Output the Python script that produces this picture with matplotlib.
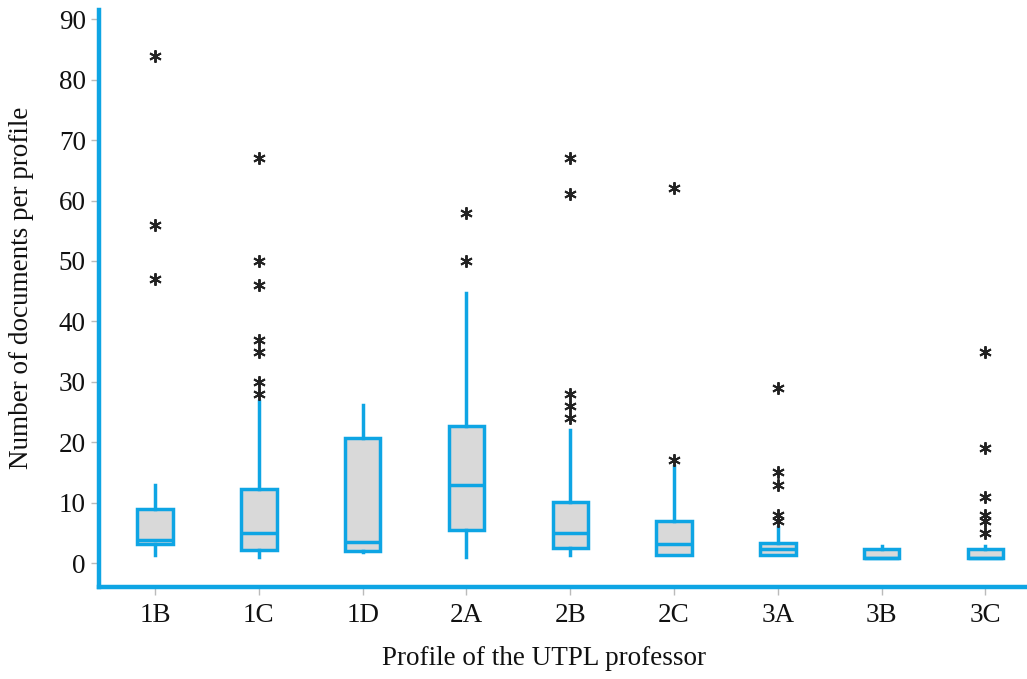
import matplotlib
matplotlib.use("Agg")
import matplotlib.pyplot as plt

# Box statistics
profiles = ["1B", "1C", "1D", "2A", "2B", "2C", "3A", "3B", "3C"]
q1 = [3.1, 2.2, 2.0, 5.5, 2.5, 1.3, 1.3, 0.9, 0.9]
medians = [3.9, 5.0, 3.5, 13.0, 4.9, 3.2, 2.4, 0.9, 0.9]
q3 = [8.9, 12.3, 20.7, 22.7, 10.1, 6.9, 3.3, 2.3, 2.3]
whisker_low = [1.3, 1.0, 1.8, 1.0, 1.3, 1.3, 1.3, 0.9, 0.9]
whisker_high = [12.9, 26.8, 26.1, 44.7, 22.0, 16.1, 5.9, 2.9, 2.9]
outliers = [
    [84, 56, 47],
    [67, 50, 46, 37, 35, 30, 28],
    [],
    [58, 50],
    [67, 61, 28, 26, 24],
    [62, 17],
    [29, 15, 13, 8, 7],
    [],
    [35, 19, 11, 8, 7, 5],
]

blue = "#0EA5E4"

stats = []
for i, name in enumerate(profiles):
    stats.append({
        "label": name,
        "q1": q1[i],
        "med": medians[i],
        "q3": q3[i],
        "whislo": whisker_low[i],
        "whishi": whisker_high[i],
        "fliers": outliers[i],
    })

plt.rcParams["font.family"] = ["Liberation Serif", "DejaVu Serif"]

fig = plt.figure(figsize=(10.27, 6.79), dpi=100)
ax = fig.add_axes([0.0964, 0.136, 0.9036, 0.849])

ax.bxp(
    stats,
    positions=range(len(profiles)),
    widths=0.34,
    patch_artist=True,
    showcaps=False,
    boxprops=dict(facecolor="#D9D9D9", edgecolor=blue, linewidth=2.5),
    medianprops=dict(color=blue, linewidth=2.5),
    whiskerprops=dict(color=blue, linewidth=2.5),
    flierprops=dict(marker=(6, 2, 0), markersize=9, markeredgecolor="#222222",
                    markeredgewidth=1.4, linestyle="none"),
)

ax.set_xlim(-0.54, 8.40)
ax.set_ylim(-3.9, 91.5)
ax.set_yticks(range(0, 91, 10))
ax.set_xticks(range(len(profiles)))
ax.set_xticklabels(profiles)

for side in ["top", "right"]:
    ax.spines[side].set_visible(False)
for side in ["left", "bottom"]:
    ax.spines[side].set_color(blue)
    ax.spines[side].set_linewidth(3.2)

ax.tick_params(axis="both", colors="#BBBBBB", labelcolor="#111111",
               labelsize=19.5, length=6, width=1)
ax.tick_params(axis="x", pad=6)

ax.set_xlabel("Profile of the UTPL professor", fontsize=19.5, color="#111111")
ax.set_ylabel("Number of documents per profile", fontsize=19.5, color="#111111")
ax.xaxis.set_label_coords(0.48, -0.125)
ax.yaxis.set_label_coords(-0.083, 0.518)
ax.xaxis.label.set_va("center")
ax.yaxis.label.set_va("center")

plt.savefig("out.png", dpi=100)
plt.close()
